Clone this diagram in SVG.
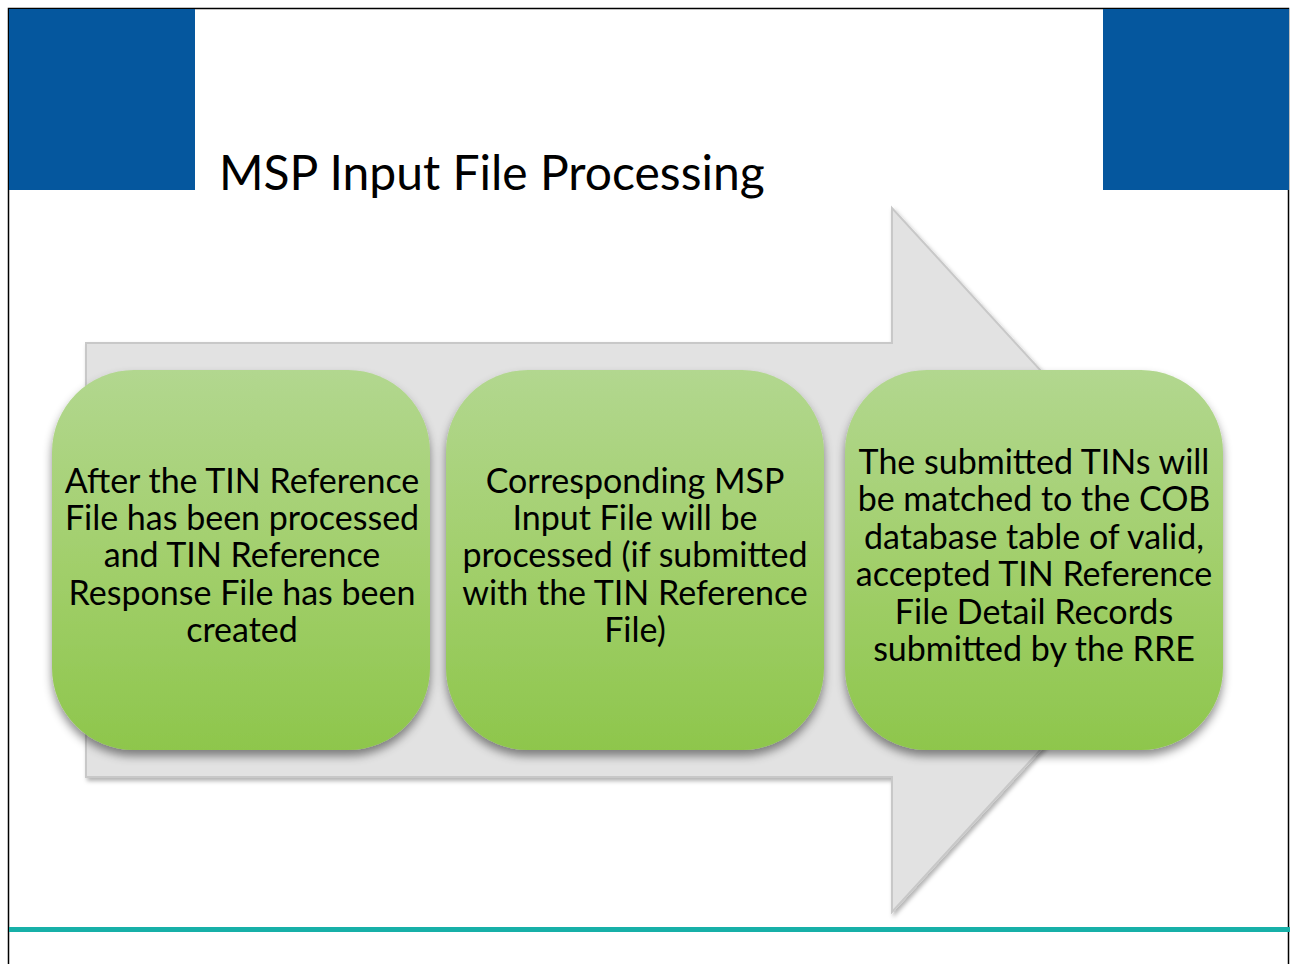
<svg xmlns="http://www.w3.org/2000/svg" width="1290" height="964" viewBox="0 0 1290 964">
<defs>
<linearGradient id="g" x1="0" y1="0" x2="0" y2="1">
<stop offset="0" stop-color="#b2d78f"/>
<stop offset="0.5" stop-color="#a2cf6c"/>
<stop offset="1" stop-color="#8ec64c"/>
</linearGradient>
<filter id="sh" x="-10%" y="-10%" width="120%" height="125%">
<feDropShadow dx="0" dy="6" stdDeviation="5" flood-color="#000" flood-opacity="0.45"/>
</filter>
<filter id="ash" x="-5%" y="-5%" width="110%" height="110%">
<feDropShadow dx="2" dy="3" stdDeviation="2" flood-color="#000" flood-opacity="0.3"/>
</filter>
<style>
.box{fill:url(#g);filter:url(#sh)}
.t{font-family:Lato,"Open Sans","Liberation Sans",sans-serif;font-size:34px;fill:#000;text-anchor:middle}
.title{font-family:Lato,"Open Sans","Liberation Sans",sans-serif;font-size:48px;fill:#000}
</style>
</defs>
<rect x="0" y="0" width="1290" height="964" fill="#fff"/>
<rect x="8.5" y="8.5" width="1280" height="960" fill="none" stroke="#000" stroke-width="1.5"/>
<rect x="9" y="9" width="186" height="181" fill="#05579e"/>
<rect x="1103" y="9" width="186" height="181" fill="#05579e"/>
<text class="title" x="219" y="190">MSP Input File Processing</text>
<rect x="9" y="927" width="1281" height="5" fill="#17b0a8"/>
<g id="arrow">
<polygon points="86,343 892,343 892,208 1214,560 892,912 892,777 86,777" fill="#e2e2e2" stroke="#c8c8c8" stroke-width="2" filter="url(#ash)"/>
</g>
<g id="connectors"></g>
<g id="n1">
<rect class="box" x="52" y="370" width="378" height="380" rx="82"/>
<text class="t"><tspan x="242" y="493">After the TIN Reference</tspan><tspan x="242" y="530">File has been processed</tspan><tspan x="242" y="567">and TIN Reference</tspan><tspan x="242" y="605">Response File has been</tspan><tspan x="242" y="642">created</tspan></text>
</g>
<g id="n2">
<rect class="box" x="446" y="370" width="378" height="380" rx="82"/>
<text class="t"><tspan x="635" y="493">Corresponding MSP</tspan><tspan x="635" y="530">Input File will be</tspan><tspan x="635" y="567">processed (if submitted</tspan><tspan x="635" y="605">with the TIN Reference</tspan><tspan x="635" y="642">File)</tspan></text>
</g>
<g id="n3">
<rect class="box" x="845" y="370" width="378" height="380" rx="82"/>
<text class="t"><tspan x="1034" y="474">The submitted TINs will</tspan><tspan x="1034" y="511">be matched to the COB</tspan><tspan x="1034" y="549">database table of valid,</tspan><tspan x="1034" y="586">accepted TIN Reference</tspan><tspan x="1034" y="624">File Detail Records</tspan><tspan x="1034" y="661">submitted by the RRE</tspan></text>
</g>
</svg>
